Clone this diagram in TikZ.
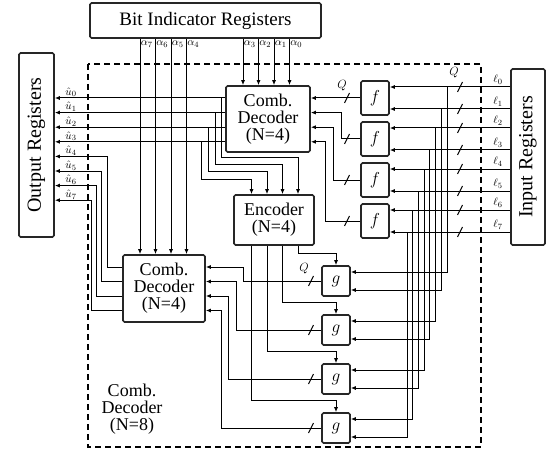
\documentclass[tikz,border=0pt]{standalone}
\usepackage{fontspec}
\setmainfont{Liberation Serif}
\usetikzlibrary{arrows.meta,calc}
\begin{document}
\begin{tikzpicture}[x=1pt,y=-1pt,
  box/.style={draw=black!85, line width=1.6pt, rounded corners=1.5pt, inner sep=0pt, align=center, font=\fontsize{18}{17}\selectfont},
  fbox/.style={box, minimum width=28pt, minimum height=34pt, font=\fontsize{19}{19}\selectfont},
  gbox/.style={box, minimum width=28pt, minimum height=30pt, font=\fontsize{19}{19}\selectfont},
  wire/.style={line width=1pt},
  arr/.style={wire, -{Latex[length=5pt,width=4pt]}},
  lab/.style={font=\fontsize{11}{11}\selectfont, inner sep=0.5pt},
  qlab/.style={font=\fontsize{13}{13}\selectfont, inner sep=0.5pt},
  sl/.pic={\draw[line width=1pt] (-2.5,5) -- (2.5,-5);}
]
\useasboundingbox (0,0) rectangle (555,452);

% dashed outer block
\draw[line width=1.3pt, dash pattern=on 6pt off 4pt] (88,64) rectangle (481,447);
\node[align=center, font=\fontsize{18}{17}\selectfont] (cd8) at (132,409) {Comb.\\Decoder\\(N=8)};

% boxes
\node[box, minimum width=231pt, minimum height=35pt, font=\fontsize{19}{19}\selectfont] (bir) at (205.5,20.5) {Bit Indicator Registers};
\node[box, rotate=90, minimum width=184pt, minimum height=35pt, font=\fontsize{20}{20}\selectfont] (outreg) at (36.5,145) {Output Registers};
\node[box, rotate=90, minimum width=176pt, minimum height=34pt, font=\fontsize{20}{20}\selectfont] (inreg) at (528,157) {Input Registers};
\node[box, minimum width=84pt, minimum height=66pt] (cd1) at (268,119) {Comb.\\Decoder\\(N=4)};
\node[box, minimum width=80pt, minimum height=50pt] (enc) at (274,220) {Encoder\\(N=4)};
\node[box, minimum width=82pt, minimum height=67pt] (cd2) at (164,288.5) {Comb.\\Decoder\\(N=4)};
\foreach \k/\yy in {1/98,2/139,3/180,4/221}{
  \node[fbox] (f\k) at (375,\yy) {$f$};
}
\foreach \k/\yy in {1/281,2/330,3/379,4/428}{
  \node[gbox] (g\k) at (336,\yy) {$g$};
}

% alpha lines
\foreach \i/\xx in {7/140,6/155.5,5/171,4/186.5}{
  \draw[arr] (bir.south -| \xx,0) -- (cd2.north -| \xx,0);
  \node[lab, anchor=west] at (\xx+0.2,44) {$\alpha_{\i}$};
}
\foreach \i/\xx in {3/243,2/258.5,1/274,0/289.5}{
  \draw[arr] (bir.south -| \xx,0) -- (cd1.north -| \xx,0);
  \node[lab, anchor=west] at (\xx+0.2,44) {$\alpha_{\i}$};
}

% outputs u0..u3 and branches to encoder
\foreach \i/\yy/\bx/\hy/\ex in {0/98/221/157/298, 1/112.6/215/164/282.5, 2/127.2/208/171/267, 3/141.8/201/179/251.5}{
  \draw[arr] (cd1.west |- 0,\yy) -- (outreg.south |- 0,\yy);
  \node[lab, anchor=south] at (71,\yy-0.3) {$\hat{u}_{\i}$};
  \draw[arr] (cd1.west |- 0,\yy) -| (\bx,\hy) -| (enc.north -| \ex,0);
}

% outputs u4..u7 from second decoder
\foreach \i/\yy/\cy/\vx in {4/156.4/267/107, 5/171/281.5/101, 6/185.6/296/96, 7/200.2/310.5/91}{
  \draw[arr] (cd2.west |- 0,\cy) -| (\vx,\yy) -- (outreg.south |- 0,\yy);
  \node[lab, anchor=south] at (71,\yy-0.3) {$\hat{u}_{\i}$};
}

% f outputs to first decoder
\draw[arr] (f1.west) -- (cd1.east |- f1.west);
\foreach \k/\vx/\cy in {2/341/112.6, 3/333/127.2, 4/325/141.8}{
  \draw[arr] (f\k.west) -| (\vx,\cy) -- (cd1.east |- 0,\cy);
}
\foreach \yy in {98,139,180,221}{ \path (347,\yy) pic{sl}; }
\node[qlab] (q2) at (342,86) {$Q$};

% encoder to g blocks
\foreach \ex/\hy/\k in {298/253/1, 282.5/302/2, 267/351/3, 251.5/400/4}{
  \draw[arr] (enc.south -| \ex,0) -- (\ex,\hy) -| (g\k.north);
}

% g outputs to second decoder
\foreach \k/\vx/\cy in {1/243/267, 2/236/281.5, 3/228/296, 4/221/310.5}{
  \draw[arr] (g\k.west) -| (\vx,\cy) -- (cd2.east |- 0,\cy);
}
\foreach \yy in {281,330,379,428}{ \path (311,\yy) pic{sl}; }
\node[qlab] (q3) at (304,269) {$Q$};

% inputs
\foreach \i/\yy/\fk/\xx/\gy/\gk in {
  0/87/1/447/272/1, 1/109/1/441.3/290/1,
  2/128/2/435.6/321/2, 3/150/2/429.9/339/2,
  4/169/3/424.2/370/3, 5/191/3/418.5/388/3,
  6/210/4/412.8/419/4, 7/232/4/407.1/437/4}{
  \draw[arr] (inreg.north |- 0,\yy) -- (f\fk.east |- 0,\yy);
  \draw[arr] (\xx,\yy) -- (\xx,\gy) -- (g\gk.east |- 0,\gy);
  \path (460,\yy) pic{sl};
  \node[lab] at (498,\yy-7) {$\ell_{\i}$};
}
\node[qlab] (q1) at (454,73) {$Q$};
\end{tikzpicture}
\end{document}
